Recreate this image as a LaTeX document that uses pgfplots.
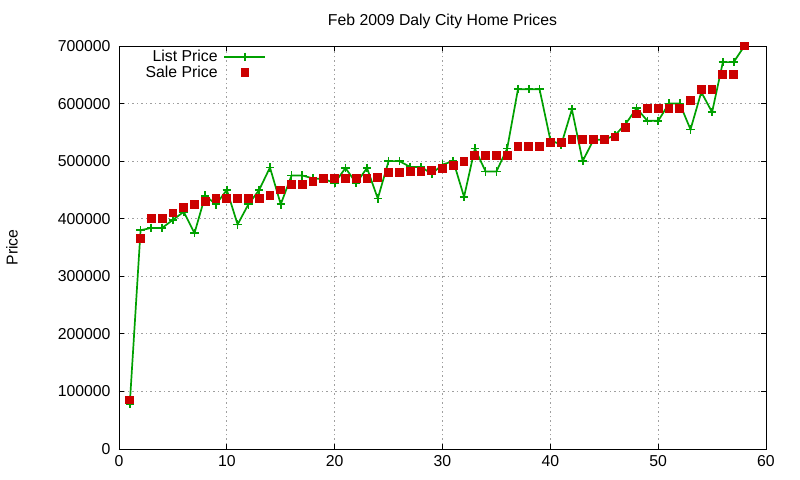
\documentclass[border=0pt]{standalone}
\usepackage{fontspec}
\setmainfont{Liberation Sans}
\usepackage{pgfplots}
\pgfplotsset{compat=1.18}
\definecolor{lgreen}{RGB}{0,160,0}
\definecolor{sred}{RGB}{204,0,0}
\begin{document}
\fontsize{15.8bp}{18bp}\selectfont
\begin{tikzpicture}
\useasboundingbox (-119bp,-31bp) rectangle (681bp,449bp);
\begin{axis}[
  at={(0,0)}, anchor=south west,
  scale only axis, width=647bp, height=403bp,
  xmin=0, xmax=60, ymin=0, ymax=700000,
  xtick={0,10,...,60},
  ytick={0,100000,...,700000},
  scaled y ticks=false,
  /pgf/number format/assume math mode=true,
  /pgf/number format/fixed,
  /pgf/number format/1000 sep={},
  tick align=inside,
  major tick length=5bp,
  tick style={black, line width=0.8bp},
  axis line style={black, line width=0.8bp},
  grid=major,
  major grid style={gray!75, dash pattern=on 1.5bp off 3bp, line width=0.8bp},
  title={Feb 2009 Daly City Home Prices},
  title style={at={(axis description cs:0.5,1)}, anchor=center, yshift=19bp},
  ylabel={Price},
  ylabel style={at={(axis description cs:-0.1654,0.5)}, anchor=center},
  yticklabel style={xshift=-3bp},
  xticklabel style={yshift=-1bp},
  legend plot pos=right,
  legend cell align=right,
  legend style={at={(rel axis cs:0.228,0.99)}, anchor=north east, draw=none, fill=none,
    inner sep=0pt, row sep=3bp, column sep=6bp,
    nodes={inner sep=0pt, text height=11.5bp, text depth=1.5bp}},
  legend image code/.code={\draw[mark repeat=2,mark phase=2,#1] plot coordinates {(0bp,0bp) (20.5bp,0bp) (41bp,0bp)};},
]
\addplot[lgreen, line width=1.7bp, mark=+, mark size=4.2bp, mark options={line width=1.7bp}] table {
x y
1 78000
2 380000
3 384000
4 384000
5 398000
6 412000
7 375000
8 440000
9 425000
10 450000
11 390000
12 425000
13 450000
14 489000
15 425000
16 475000
17 475000
18 470000
19 469000
20 462000
21 488000
22 462000
23 488000
24 435000
25 500000
26 500000
27 490000
28 490000
29 478000
30 494000
31 500000
32 438000
33 522000
34 482000
35 482000
36 522000
37 625000
38 625000
39 625000
40 537000
41 528000
42 590000
43 500000
44 537000
45 537000
46 545000
47 565000
48 592000
49 570000
50 570000
51 600000
52 600000
53 555000
54 620000
55 585000
56 672000
57 672000
58 700000
};
\addlegendentry{List Price}
\addplot[sred, only marks, mark=square*, mark size=3.9bp, mark options={draw=sred, fill=sred, line width=0pt}] table {
x y
1 85000
2 365000
3 400000
4 400000
5 410000
6 420000
7 425000
8 430000
9 435000
10 435000
11 435000
12 435000
13 435000
14 440000
15 450000
16 460000
17 460000
18 465000
19 470000
20 470000
21 470000
22 470000
23 470000
24 472000
25 480000
26 480000
27 482000
28 482000
29 484000
30 487000
31 492000
32 500000
33 510000
34 510000
35 510000
36 510000
37 525000
38 525000
39 525000
40 532000
41 532000
42 537000
43 537000
44 537000
45 537000
46 542000
47 558000
48 582000
49 592000
50 592000
51 592000
52 592000
53 605000
54 625000
55 625000
56 650000
57 650000
58 700000
};
\addlegendentry{Sale Price}
\end{axis}
\end{tikzpicture}
\end{document}
